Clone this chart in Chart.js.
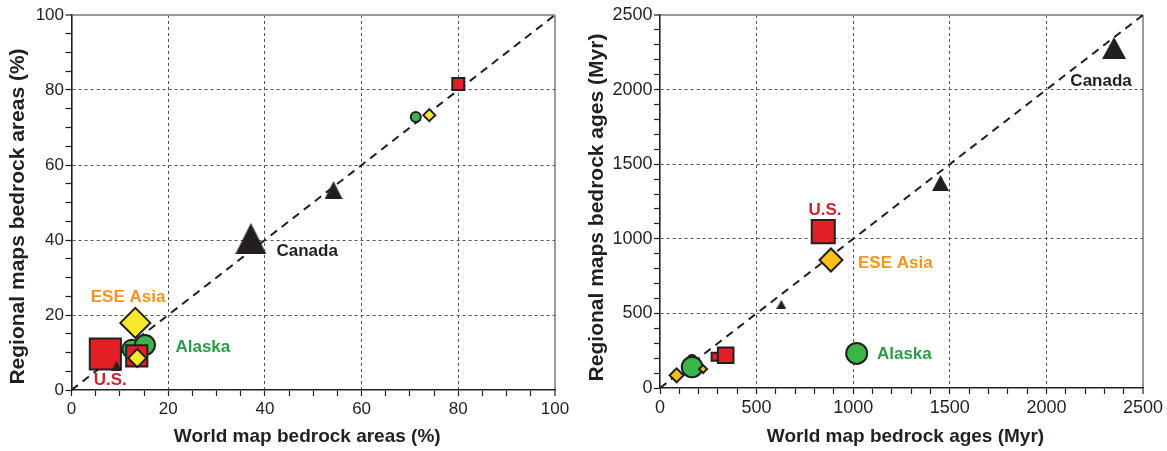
<!DOCTYPE html>
<html lang="en">
<head>
<meta charset="UTF-8">
<title>Bedrock areas and ages</title>
<script src="https://cdn.jsdelivr.net/npm/chart.js"></script>
<style>
body {
    margin: 0;
    background: #ffffff;
}
.wrap {
    position: relative;
    width: 1167px;
    height: 451px;
}
#areas-chart {
    position: absolute;
    left: 0;
    top: 0;
}
#ages-chart {
    position: absolute;
    left: 583px;
    top: 0;
}
</style>
</head>
<body>
<div class="wrap">
    <canvas id="areas-chart" width="583" height="451"></canvas>
    <canvas id="ages-chart" width="584" height="451"></canvas>
</div>
<script>
// left panel: bedrock areas (%), world map (x) vs regional maps (y)
const areaGreenX = [12.5, 15.2, 71.2];
const areaGreenY = [10.9, 12.0, 72.8];
const areaRedX = [7.0, 13.5, 80.0];
const areaRedY = [9.6, 9.1, 81.6];
const areaYellowX = [13.2, 13.6, 74.0];
const areaYellowY = [17.9, 8.5, 73.3];
const areaBlackX = [9.3, 37.1, 54.2];
const areaBlackY = [6.4, 40.4, 53.3];

// right panel: bedrock ages (Myr)
const ageGreenX = [166, 166, 1018];
const ageGreenY = [195, 141, 232];
const ageRedX = [288, 340, 845];
const ageRedY = [210, 220, 1048];
const ageYellowX = [86, 223, 885];
const ageYellowY = [85, 127, 858];
const ageBlackX = [628, 1452, 2350];
const ageBlackY = [560, 1374, 2279];

// axis ranges and tick labels
const areaMax = 100, areaStep = 5, areaLabelStep = 20;
const ageMax = 2500, ageStep = 100, ageLabelStep = 500;

// region names written next to the markers (data coords)
const areaNotes = [
    { text: 'ESE Asia', x: 11.7, y: 24.8, color: '#f7941d', align: 'center' },
    { text: 'Alaska', x: 21.5, y: 11.5, color: '#2d9a47', align: 'left' },
    { text: 'U.S.', x: 8, y: 2.7, color: '#c4262e', align: 'center' },
    { text: 'Canada', x: 42.4, y: 37, color: '#231f20', align: 'left' }
];
const ageNotes = [
    { text: 'U.S.', x: 854, y: 1193, color: '#c4262e', align: 'center' },
    { text: 'ESE Asia', x: 1025, y: 838, color: '#f7941d', align: 'left' },
    { text: 'Alaska', x: 1123, y: 228, color: '#2d9a47', align: 'left' },
    { text: 'Canada', x: 2283, y: 2058, color: '#231f20', align: 'center' }
];

const FONT = '"Liberation Sans", Arial, sans-serif';

function pts(xs, ys) {
    return xs.map((x, i) => ({ x: x, y: ys[i] }));
}

// taller-than-equilateral triangle marker
function triangle(w, h) {
    const c = document.createElement('canvas');
    c.width = w;
    c.height = h;
    const g = c.getContext('2d');
    g.fillStyle = '#231f20';
    g.beginPath();
    g.moveTo(w / 2, 0);
    g.lineTo(w, h);
    g.lineTo(0, h);
    g.closePath();
    g.fill();
    return c;
}

const noteLabels = {
    id: 'noteLabels',
    afterDatasetsDraw(chart, args, opts) {
        const ctx = chart.ctx;
        ctx.save();
        ctx.font = 'bold 17px ' + FONT;
        ctx.textBaseline = 'middle';
        opts.notes.forEach(n => {
            ctx.fillStyle = n.color;
            ctx.textAlign = n.align;
            ctx.fillText(n.text, chart.scales.x.getPixelForValue(n.x), chart.scales.y.getPixelForValue(n.y));
        });
        ctx.restore();
    }
};

// axis titles, placed a little off the chart-area centre as in the original figure
const axisTitles = {
    id: 'axisTitles',
    afterDraw(chart, args, o) {
        const ctx = chart.ctx;
        const a = chart.chartArea;
        ctx.save();
        ctx.fillStyle = '#231f20';
        ctx.textAlign = 'center';
        ctx.textBaseline = 'middle';
        ctx.font = 'bold ' + o.xSize + 'px ' + FONT;
        ctx.fillText(o.xText, (a.left + a.right) / 2 + o.dx, o.xPos);
        ctx.translate(o.yPos, (a.top + a.bottom) / 2 + o.dy);
        ctx.rotate(-Math.PI / 2);
        ctx.font = 'bold ' + o.ySize + 'px ' + FONT;
        ctx.fillText(o.yText, 0, 0);
        ctx.restore();
    }
};

function axis(max, step, labelStep, size, fontSize, pad) {
    return {
        type: 'linear',
        min: 0,
        max: max,
        afterFit: s => {
            if (s.isHorizontal()) {
                s.height = size;
                s.paddingLeft = 0;
                s.paddingRight = 0;
            } else {
                s.width = size;
                s.paddingTop = 0;
                s.paddingBottom = 0;
            }
        },
        ticks: {
            stepSize: step,
            autoSkip: false,
            maxRotation: 0,
            padding: pad,
            color: '#231f20',
            font: { family: FONT, size: fontSize },
            callback: v => (v % labelStep === 0 ? v : '')
        },
        grid: {
            drawTicks: true,
            tickLength: 6,
            tickColor: '#231f20',
            tickWidth: 1.2,
            color: c => {
                const v = c.tick.value;
                if (v === max) return '#9a9a9a';
                if (v !== 0 && v % labelStep === 0) return '#555555';
                return 'rgba(0,0,0,0)';
            },
            lineWidth: c => (c.tick.value === max ? 2 : 1)
        },
        border: {
            display: true,
            color: '#231f20',
            width: 1.6,
            dash: c => (c.tick && c.tick.value !== max ? [3, 3] : [])
        }
    };
}

function makeChart(id, max, step, labelStep, series, notes, titles, pad) {
    const ctx = document.getElementById(id).getContext('2d');
    return new Chart(ctx, {
        type: 'scatter',
        data: {
            datasets: [
                {
                    type: 'line',
                    data: [{ x: 0, y: 0 }, { x: max, y: max }],
                    borderColor: '#231f20',
                    borderWidth: 2,
                    borderDash: [8, 6],
                    pointRadius: 0,
                    order: 5
                },
                {
                    data: series.green,
                    pointStyle: 'circle',
                    pointRadius: series.greenR,
                    backgroundColor: '#39b54a',
                    borderColor: '#231f20',
                    borderWidth: 2,
                    order: 4
                },
                {
                    data: series.red,
                    pointStyle: 'rect',
                    pointRadius: series.redR,
                    backgroundColor: '#e31e24',
                    borderColor: '#231f20',
                    borderWidth: 2,
                    order: 3
                },
                {
                    data: series.yellow,
                    pointStyle: 'rectRot',
                    pointRadius: series.yellowR,
                    backgroundColor: series.yellowFill,
                    borderColor: '#231f20',
                    borderWidth: 2,
                    order: 2
                },
                {
                    data: series.black,
                    pointStyle: series.blackWH.map(s => triangle(s[0], s[1])),
                    pointRadius: 8,
                    order: 1
                }
            ]
        },
        options: {
            responsive: false,
            animation: false,
            events: [],
            layout: {
                autoPadding: false,
                padding: { left: 0, right: pad.right, top: pad.top, bottom: 0 }
            },
            scales: {
                x: axis(max, step, labelStep, pad.xSize, pad.tickFont, 3),
                y: axis(max, step, labelStep, pad.ySize, pad.tickFont, 1.5)
            },
            plugins: {
                legend: { display: false },
                tooltip: { enabled: false },
                noteLabels: { notes: notes },
                axisTitles: titles
            }
        },
        plugins: [noteLabels, axisTitles]
    });
}

makeChart('areas-chart', areaMax, areaStep, areaLabelStep, {
    green: pts(areaGreenX, areaGreenY), greenR: [9.5, 10, 5],
    red: pts(areaRedX, areaRedY), redR: [22, 15, 8.5],
    yellow: pts(areaYellowX, areaYellowY), yellowR: [15, 9, 6], yellowFill: '#f6e82a',
    black: pts(areaBlackX, areaBlackY), blackWH: [[10, 10], [31, 31], [18, 18]]
}, areaNotes, {
    xText: 'World map bedrock areas (%)', xSize: 19, dx: -6, xPos: 437,
    yText: 'Regional maps bedrock areas (%)', ySize: 21, dy: 14, yPos: 18
}, { right: 28, top: 15, xSize: 61, ySize: 71.5, tickFont: 17 });

makeChart('ages-chart', ageMax, ageStep, ageLabelStep, {
    green: pts(ageGreenX, ageGreenY), greenR: [4, 10.3, 10.5],
    red: pts(ageRedX, ageRedY), redR: [5.7, 11, 16.3],
    yellow: pts(ageYellowX, ageYellowY), yellowR: [7, 4, 11.5], yellowFill: '#fcc216',
    black: pts(ageBlackX, ageBlackY), blackWH: [[10, 9], [17, 16], [24, 22]]
}, ageNotes, {
    xText: 'World map bedrock ages (Myr)', xSize: 19, dx: 4, xPos: 437,
    yText: 'Regional maps bedrock ages (Myr)', ySize: 21, dy: 6, yPos: 14
}, { right: 24, top: 15, xSize: 63, ySize: 77, tickFont: 18 });
</script>
</body>
</html>
